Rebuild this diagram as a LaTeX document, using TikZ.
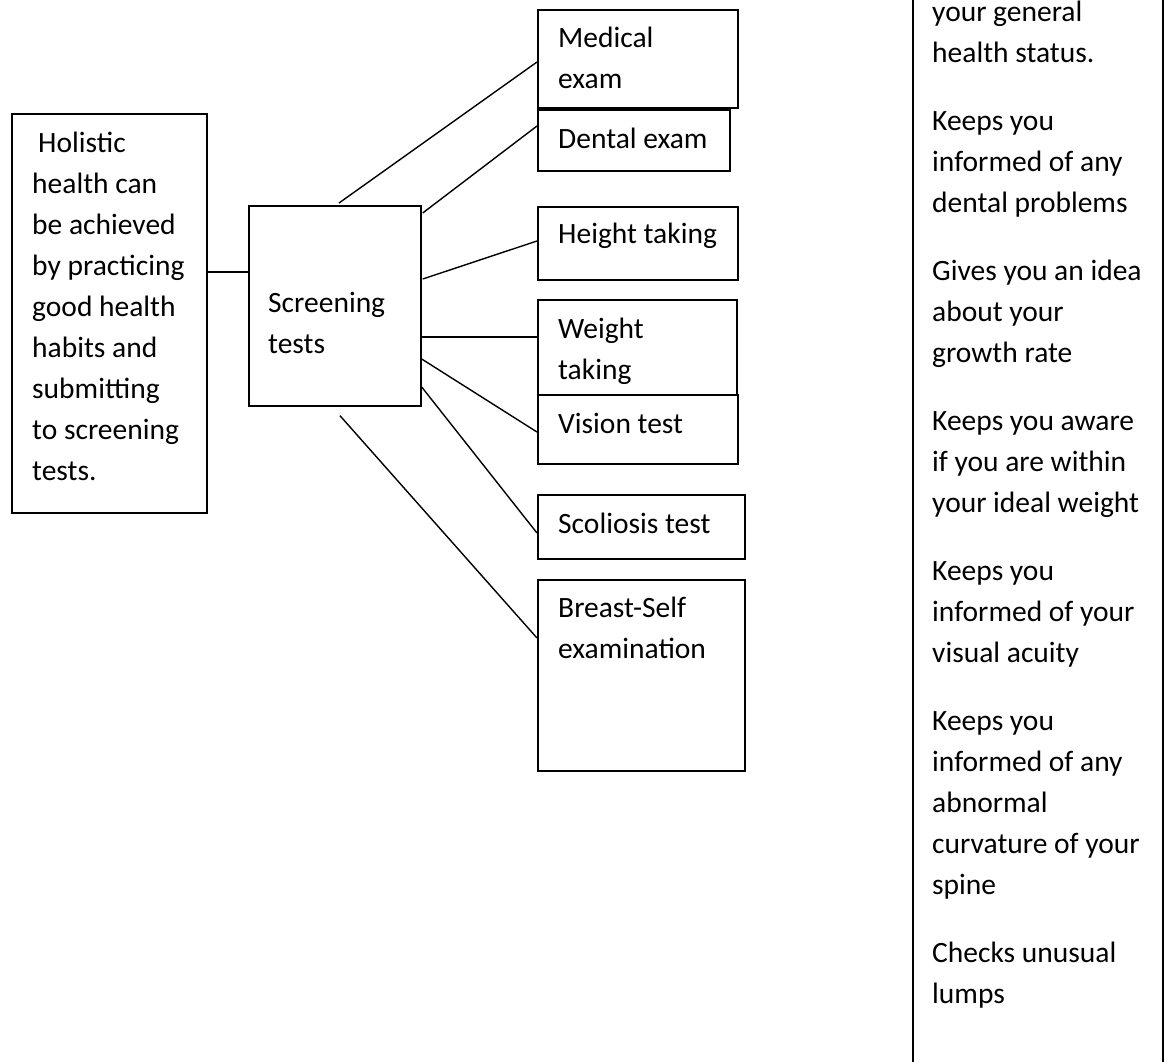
\documentclass[tikz,border=0pt]{standalone}
\usepackage{fontspec}
\setmainfont{Carlito}[WordSpace={1,0,0}]
\usetikzlibrary{calc}
\tikzset{
  box/.style={draw=black, line width=1.7pt, rectangle, inner sep=0pt, anchor=north west},
  txt/.style={inner sep=0pt, anchor=base west, align=flush left, font=\fontsize{29.5}{41}\selectfont},
  conn/.style={draw=black, line width=1.4pt}
}
\begin{document}
\begin{tikzpicture}[x=1pt, y=-1pt]
\useasboundingbox[fill=white] (0,0) rectangle (1167,1061);
\clip (0,0) rectangle (1167,1061);
% boxes
\node[box, minimum width=195pt, minimum height=399pt] (hol) at (11,113) {};
\node[box, minimum width=172pt, minimum height=200pt] (scr) at (248,205) {};
\node[box, minimum width=200pt, minimum height=98pt] (med) at (537,9) {};
\node[box, minimum width=192pt, minimum height=61pt] (den) at (537,109) {};
\node[box, minimum width=200pt, minimum height=73pt] (hei) at (537,206) {};
\node[box, minimum width=199pt, minimum height=95pt] (wei) at (537,299) {};
\node[box, minimum width=200pt, minimum height=69pt] (vis) at (537,394) {};
\node[box, minimum width=207pt, minimum height=64pt] (sco) at (537,494) {};
\node[box, minimum width=207pt, minimum height=191pt] (bre) at (537,579) {};
\node[box, minimum width=250pt, minimum height=1100pt] (eff) at (912,-20) {};
% texts
\node[txt, text width=180pt] (holT) at (32,152) {\hspace{6pt}Holistic\\ health can\\ be achieved\\ by practicing\\ good health\\ habits and\\ submitting\\ to screening\\ tests.};
\node[txt, text width=150pt] (scrT) at (268,312) {Screening\\ tests};
\node[txt, text width=170pt] (medT) at (558,47) {Medical\\ exam};
\node[txt] (denT) at (558,148) {Dental exam};
\node[txt] (heiT) at (558,243) {Height taking};
\node[txt, text width=170pt] (weiT) at (558,338) {Weight\\ taking};
\node[txt] (visT) at (558,433) {Vision test};
\node[txt] (scoT) at (558,533) {Scoliosis test};
\node[txt, text width=180pt] (breT) at (558,617) {Breast-Self\\ examination};
\node[txt, text width=228pt] (effT) at (932,21) {your general\\ health status.\\[27pt]
Keeps you\\ informed of any\\ dental problems\\[27pt]
Gives you an idea\\ about your\\ growth rate\\[27pt]
Keeps you aware\\ if you are within\\ your ideal weight\\[27pt]
Keeps you\\ informed of your\\ visual acuity\\[27pt]
Keeps you\\ informed of any\\ abnormal\\ curvature of your\\ spine\\[27pt]
Checks unusual\\ lumps};
% connectors
\draw[conn] ($(hol.north east)+(0,159)$) -- ($(scr.north west)+(0,67)$);
\draw[conn] ($(scr.north west)+(91,-2)$) -- ($(med.north west)+(0,53)$);
\draw[conn] ($(scr.north east)+(1,8)$) -- ($(den.north west)+(0,17)$);
\draw[conn] ($(scr.north east)+(1,74)$) -- ($(hei.north west)+(0,35)$);
\draw[conn] ($(scr.north east)+(0,132)$) -- ($(wei.north west)+(0,38)$);
\draw[conn] ($(scr.north east)+(0,154)$) -- ($(vis.north west)+(0,38)$);
\draw[conn] ($(scr.north east)+(0,182)$) -- ($(sco.north west)+(0,39)$);
\draw[conn] ($(scr.south west)+(92,9)$) -- ($(bre.north west)+(0,59)$);
\end{tikzpicture}
\end{document}
